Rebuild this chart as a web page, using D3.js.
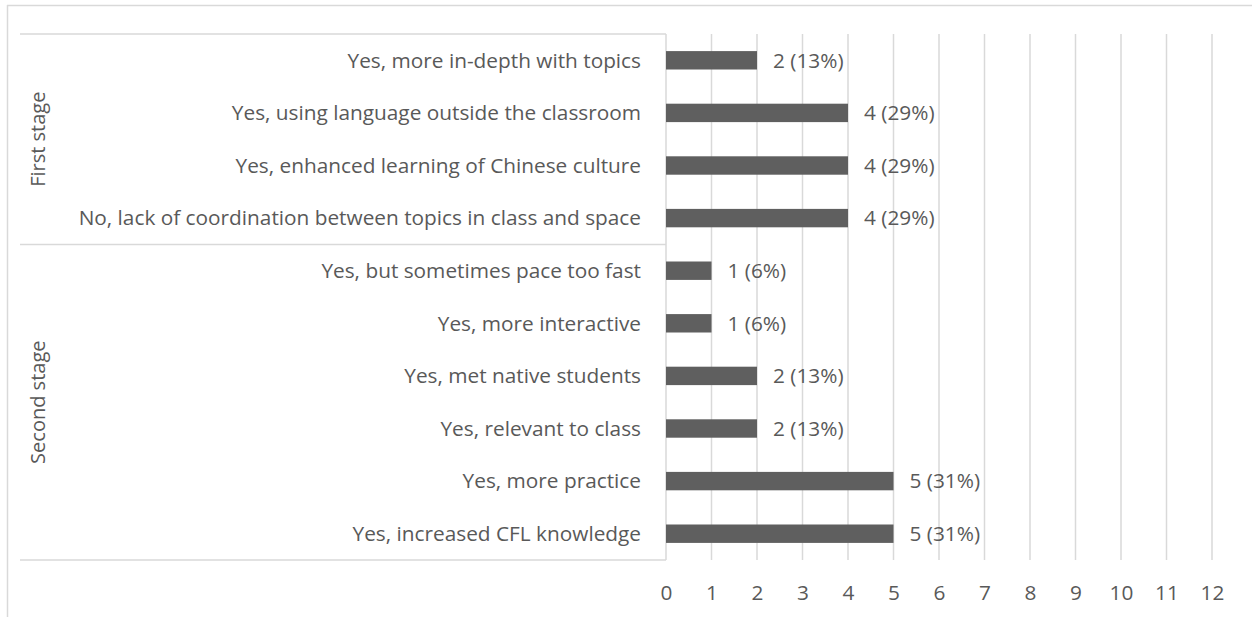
<!DOCTYPE html>
<html>
<head>
<meta charset="utf-8">
<script src="https://cdn.jsdelivr.net/npm/d3@7"></script>
<style>
  html, body { margin: 0; padding: 0; background: #fff; }
  svg { display: block; }
  text { font-family: "Open Sans", sans-serif; fill: #595959; }
</style>
</head>
<body>
<svg id="chart" width="1252" height="617"></svg>
<script>
// ---- data ----
const categories = [
  "Yes, more in-depth with topics",
  "Yes, using language outside the classroom",
  "Yes, enhanced learning of Chinese culture",
  "No, lack of coordination between topics in class and space",
  "Yes, but sometimes pace too fast",
  "Yes, more interactive",
  "Yes, met native students",
  "Yes, relevant to class",
  "Yes, more practice",
  "Yes, increased CFL knowledge"
];
const values = [2, 4, 4, 4, 1, 1, 2, 2, 5, 5];
const percents = ["13%", "29%", "29%", "29%", "6%", "6%", "13%", "13%", "31%", "31%"];
const groupNames = ["First stage", "Second stage"];
const groupSizes = [4, 6];
const xTicks = [0, 1, 2, 3, 4, 5, 6, 7, 8, 9, 10, 11, 12];

// ---- layout ----
const svg = d3.select("#chart");
const plot = { left: 666, right: 1212, top: 34, bottom: 560 };
const gridColor = "#d9d9d9";
const barColor = "#5f5f5f";
const fs = "20.8px";

const x = d3.scaleLinear().domain([0, 12]).range([plot.left, plot.right]);
const y = d3.scaleBand().domain(categories).range([plot.top, plot.bottom]).paddingInner(0.65).paddingOuter(0.325);

// outer border (top + left)
svg.append("line").attr("x1", 7).attr("x2", 1252).attr("y1", 5.5).attr("y2", 5.5)
  .attr("stroke", gridColor).attr("stroke-width", 1.5);
svg.append("line").attr("x1", 7.5).attr("x2", 7.5).attr("y1", 5).attr("y2", 617)
  .attr("stroke", gridColor).attr("stroke-width", 1.5);

// vertical gridlines
svg.append("g").selectAll("line").data(xTicks.slice(1)).join("line")
  .attr("x1", d => x(d)).attr("x2", d => x(d))
  .attr("y1", plot.top).attr("y2", plot.bottom)
  .attr("stroke", gridColor).attr("stroke-width", 1.5);

// category axis line
svg.append("line").attr("x1", plot.left).attr("x2", plot.left)
  .attr("y1", plot.top).attr("y2", plot.bottom)
  .attr("stroke", gridColor).attr("stroke-width", 1.5);

// group separators
const rowH = (plot.bottom - plot.top) / categories.length;
let acc = 0;
const sepYs = [plot.top];
groupSizes.forEach(n => { acc += n; sepYs.push(plot.top + acc * rowH); });
svg.append("g").selectAll("line").data(sepYs).join("line")
  .attr("x1", 20).attr("x2", plot.left)
  .attr("y1", d => d).attr("y2", d => d)
  .attr("stroke", gridColor).attr("stroke-width", 1.5);

// group labels
svg.append("g").selectAll("text").data(groupNames).join("text")
  .attr("transform", (d, i) => `translate(38,${(sepYs[i] + sepYs[i + 1]) / 2}) rotate(-90)`)
  .attr("text-anchor", "middle")
  .attr("dy", "0.35em")
  .style("font-size", "20px")
  .text(d => d);

// bars
svg.append("g").selectAll("rect").data(categories).join("rect")
  .attr("x", x(0))
  .attr("y", d => y(d))
  .attr("width", (d, i) => x(values[i]) - x(0))
  .attr("height", y.bandwidth())
  .attr("fill", barColor);

// value labels
svg.append("g").selectAll("text").data(categories).join("text")
  .attr("x", (d, i) => x(values[i]) + 16)
  .attr("y", d => y(d) + y.bandwidth() / 2)
  .attr("dy", "0.35em")
  .style("font-size", fs)
  .text((d, i) => `${values[i]} (${percents[i]})`);

// category labels
svg.append("g").selectAll("text").data(categories).join("text")
  .attr("x", plot.left - 25)
  .attr("y", d => y(d) + y.bandwidth() / 2)
  .attr("dy", "0.35em")
  .attr("text-anchor", "end")
  .style("font-size", fs)
  .text(d => d);

// x axis tick labels
const xAxis = d3.axisBottom(x).tickValues(xTicks).tickSize(0).tickPadding(0);
const gx = svg.append("g").attr("transform", `translate(0,${593})`).call(xAxis);
gx.select(".domain").remove();
gx.selectAll("text").attr("dy", "0.35em").attr("y", 0)
  .style("font-size", fs).style("font-family", "'Open Sans', sans-serif").attr("fill", "#595959");
</script>
</body>
</html>
